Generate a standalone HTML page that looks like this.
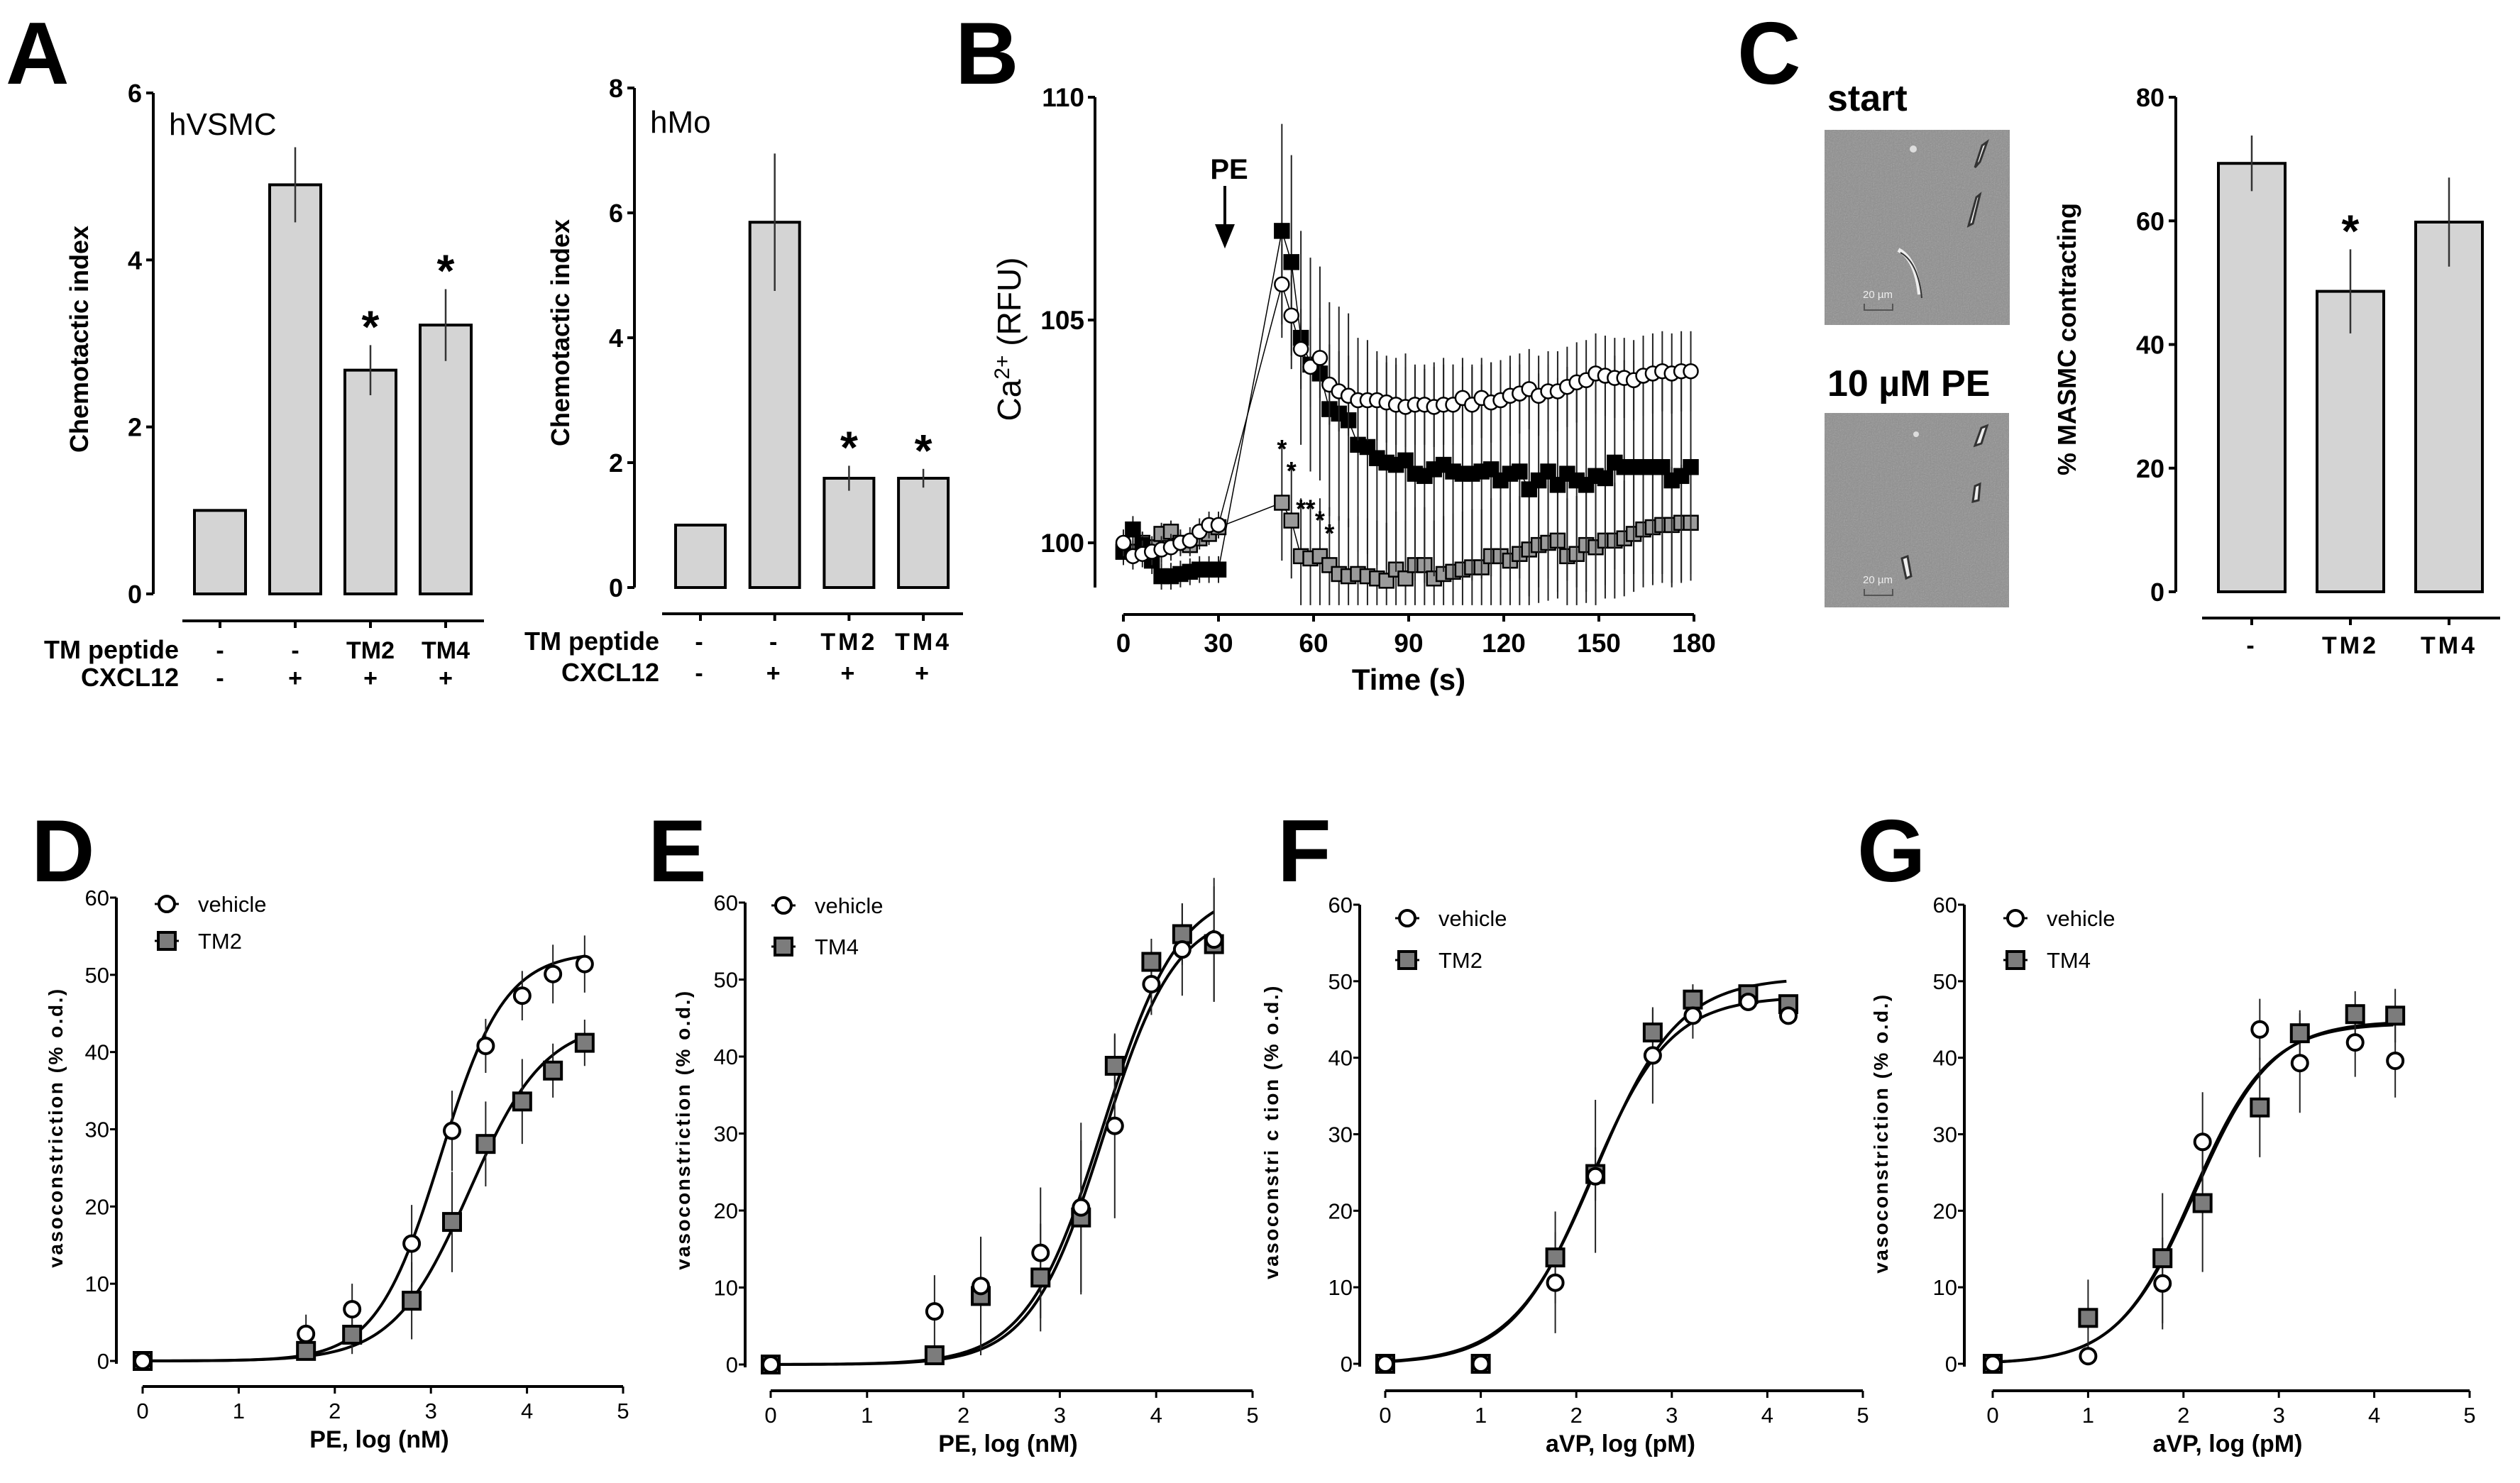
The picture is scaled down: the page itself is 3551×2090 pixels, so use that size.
<!DOCTYPE html>
<html><head><meta charset="utf-8"><style>
html,body{margin:0;padding:0;background:#fff;}
svg{display:block;}
.n{font-family:"Liberation Sans Narrow","Liberation Sans",sans-serif;font-weight:bold;}
.w{font-family:"Liberation Sans",sans-serif;font-weight:bold;}
</style></head><body>
<svg id="fig" xmlns="http://www.w3.org/2000/svg" width="3551" height="2090" viewBox="0 0 3551 2090">
<defs>
<filter id="noise" x="0" y="0" width="100%" height="100%">
<feTurbulence type="fractalNoise" baseFrequency="0.6" numOctaves="2" seed="3"/>
<feColorMatrix type="saturate" values="0"/>
<feComponentTransfer><feFuncA type="linear" slope="0.35"/></feComponentTransfer>
</filter>
</defs>
<!-- panel letters -->
<text class="w" x="8" y="118" font-size="124">A</text>
<text class="w" x="1346" y="118" font-size="124">B</text>
<text class="w" x="2448" y="118" font-size="124">C</text>
<text class="w" x="44" y="1242" font-size="124">D</text>
<text class="w" x="913" y="1242" font-size="124">E</text>
<text class="w" x="1800" y="1242" font-size="124">F</text>
<text class="w" x="2617" y="1242" font-size="124">G</text>

<!-- C micrographs -->
<g>
<rect x="2571" y="183" width="261" height="275" fill="#8e8e8e"/>
<rect x="2571" y="183" width="261" height="275" filter="url(#noise)"/>
<path d="M2793 205 L2800 200 L2790 228 L2783 236 Z" fill="#eee" stroke="#333" stroke-width="3"/>
<path d="M2785 278 L2790 274 L2780 315 L2774 318 Z" fill="#eee" stroke="#333" stroke-width="3"/>
<path d="M2675 352 Q2700 365 2705 415" fill="none" stroke="#eee" stroke-width="6"/>
<path d="M2678 356 Q2703 370 2708 420" fill="none" stroke="#333" stroke-width="2"/>
<circle cx="2696" cy="210" r="5" fill="#ddd"/>
<text x="2625" y="420" font-family="Liberation Sans,sans-serif" font-size="15" fill="#eee">20 µm</text>
<path d="M2627 428 v9 h40 v-9" fill="none" stroke="#555" stroke-width="2"/>
</g>
<g>
<rect x="2571" y="582" width="260" height="274" fill="#8e8e8e"/>
<rect x="2571" y="582" width="260" height="274" filter="url(#noise)"/>
<path d="M2792 603 L2800 600 L2792 625 L2783 628 Z" fill="#eee" stroke="#333" stroke-width="3"/>
<path d="M2783 685 L2790 682 L2788 705 L2780 707 Z" fill="#eee" stroke="#333" stroke-width="3"/>
<path d="M2680 787 L2688 784 L2693 812 L2686 815 Z" fill="#eee" stroke="#333" stroke-width="3"/>
<circle cx="2700" cy="612" r="4" fill="#ddd"/>
<text x="2625" y="822" font-family="Liberation Sans,sans-serif" font-size="15" fill="#eee">20 µm</text>
<path d="M2627 830 v9 h40 v-9" fill="none" stroke="#555" stroke-width="2"/>
</g>
<text class="w" x="2575" y="156" font-size="52">start</text>
<text class="w" x="2575" y="558" font-size="52">10 µM PE</text>
</svg>
<script>
// ---------------- data: panel A hVSMC ----------------
const aCats = ['c1','c2','c3','c4'];
const aRow1 = ['-','-','TM2','TM4'];
const aRow2 = ['-','+','+','+'];
const aVals = [1, 4.9, 2.68, 3.22];
const aErrs = [0, 0.45, 0.3, 0.43];
const aStar = [false, false, true, true];
const aTicks = [0, 2, 4, 6];
// ---------------- panel A hMo ----------------
const mVals = [1, 5.85, 1.75, 1.75];
const mErrs = [0, 1.1, 0.2, 0.15];
const mStar = [false, false, true, true];
const mRow1 = ['-','-','TM2','TM4'];
const mRow2 = ['-','+','+','+'];
const mTicks = [0, 2, 4, 6, 8];
// ---------------- panel C ----------------
const cCats = ['-','TM2','TM4'];
const cVals = [69.3, 48.6, 59.8];
const cErrs = [4.5, 6.8, 7.2];
const cStar = [false, true, false];
const cTicks = [0, 20, 40, 60, 80];
// ---------------- panel B ----------------
const bTimePre = [0,3,6,9,12,15,18,21,24,27,30];
const bTimePost = [50,53,56,59,62,65,68,71,74,77,80,83,86,89,92,95,98,101,104,107,110,113,116,119,122,125,128,131,134,137,140,143,146,149,152,155,158,161,164,167,170,173,176,179];
const bWhitePre = [100.0,99.7,99.75,99.8,99.85,99.9,100.0,100.05,100.25,100.4,100.4];
const bWhitePost = [105.8,105.1,104.35,103.95,104.15,103.55,103.4,103.3,103.2,103.2,103.2,103.15,103.1,103.05,103.1,103.1,103.05,103.1,103.1,103.25,103.1,103.25,103.15,103.2,103.3,103.35,103.45,103.3,103.4,103.4,103.5,103.6,103.65,103.8,103.75,103.7,103.7,103.65,103.75,103.8,103.85,103.8,103.85,103.85];
const bBlackPre = [99.8,100.3,99.95,99.6,99.25,99.25,99.3,99.35,99.4,99.4,99.4];
const bBlackPost = [107.0,106.3,104.6,104.0,103.8,103.0,102.9,102.75,102.2,102.15,101.9,101.8,101.75,101.85,101.55,101.5,101.65,101.75,101.6,101.55,101.55,101.6,101.65,101.4,101.55,101.6,101.2,101.4,101.6,101.3,101.55,101.4,101.3,101.5,101.45,101.8,101.7,101.7,101.7,101.7,101.7,101.4,101.5,101.7];
const bGrayPre = [99.8,99.8,100.0,99.9,100.2,100.25,100.0,99.95,100.1,100.2,100.35];
const bGrayPost = [100.9,100.5,99.7,99.65,99.7,99.5,99.3,99.25,99.3,99.25,99.2,99.15,99.4,99.2,99.5,99.5,99.2,99.3,99.35,99.4,99.45,99.45,99.7,99.7,99.6,99.75,99.85,99.95,100.0,100.05,99.7,99.75,99.95,99.9,100.05,100.05,100.1,100.2,100.3,100.35,100.4,100.4,100.45,100.45];
const bSemPre = [0.3, 0.3, 0.25];
const bSemPost = [0.9, 2.4, 1.3]; // white, black, gray
const bXTicks = [0,30,60,90,120,150,180];
const bYTicks = [100,105,110];
// ---------------- panel D ----------------
const dX = [0,1.7,2.18,2.8,3.22,3.57,3.95,4.27,4.6];
const dVeh = [0,3.5,6.7,15.2,29.8,40.8,47.3,50.1,51.4];
const dVehErr = [0,2.5,3.3,5,5.2,3.5,3.2,3.8,3.7];
const dTm = [0,1.3,3.4,7.8,18,28.1,33.6,37.6,41.2];
const dTmErr = [0,1,2.5,5,6.5,5.5,5.5,3.5,3];
const dFitVeh = [53, 3.1, 1.3];
const dFitTm = [44, 3.4, 1.1];
// ---------------- panel E ----------------
const eX = [0,1.7,2.18,2.8,3.22,3.57,3.95,4.27,4.6];
const eVeh = [0,6.9,10.2,14.5,20.4,31,49.4,53.9,55.2];
const eVehErr = [0,4.7,6.3,8.5,11,12,4,6,8];
const eTm = [0,1.2,8.9,11.3,19.1,38.8,52.3,55.9,54.6];
const eTmErr = [0,1,7.7,7,10,4,3,4,7.5];
const eFitVeh = [62, 3.45, 1.1];
const eFitTm = [59, 3.45, 1.15];
// ---------------- panel F ----------------
const fX = [0,1,1.78,2.2,2.8,3.22,3.8,4.22];
const fVeh = [0,0,10.6,24.5,40.3,45.5,47.3,45.5];
const fVehErr = [0,0,6.6,10,6.3,3,1,1];
const fTm = [0,0,13.9,24.8,43.3,47.6,48.3,47];
const fTmErr = [0,0,6,3.5,3,2,1,1];
const fFitVeh = [48, 2.15, 1.05];
const fFitTm = [50.5, 2.2, 1.0];
// ---------------- panel G ----------------
const gX = [0,1,1.78,2.2,2.8,3.22,3.8,4.22];
const gVeh = [0,1,10.5,29,43.7,39.3,42,39.6];
const gVehErr = [0,0,6,6.5,4,6.5,4.5,4.8];
const gTm = [0,6,13.8,21,33.5,43.2,45.7,45.5];
const gTmErr = [0,5,8.5,9,6.5,3,3,3.5];
const gFitVeh = [44.5, 2.1, 1.1];
const gFitTm = [44.8, 2.12, 1.08];
const doseXTicks = [0,1,2,3,4,5];
const doseYTicks = [0,10,20,30,40,50,60];

const NS = 'http://www.w3.org/2000/svg';
const svg = document.getElementById('fig');
function mk(tag, attrs, parent) {
  const el = document.createElementNS(NS, tag);
  for (const k in attrs) el.setAttribute(k, attrs[k]);
  (parent || svg).appendChild(el);
  return el;
}
function txt(s, attrs, parent) { const t = mk('text', attrs, parent); t.textContent = s; return t; }
function lin(d0, d1, r0, r1) { return v => r0 + (v - d0) * (r1 - r0) / (d1 - d0); }

// ---------- bar chart ----------
function barChart(o) {
  const g = mk('g', {});
  
  
  const y = lin(0, o.ymax, o.y0, o.y1);
  const ax = mk('line', {x1:o.ax, x2:o.ax, y1:o.y1, y2:o.y0, stroke:'#000','stroke-width':4}, g);
  
  
  o.ticks.forEach(t => {
    const tk = mk('line', {x1:o.ax-10, x2:o.ax, y1:y(t), y2:y(t), stroke:'#000','stroke-width':4}, g);
    
    
    const tl = txt(String(t), {class:'n', x:o.ax-16, y:y(t)+13, 'font-size':36, 'text-anchor':'end'}, g);
    
    
  });
  o.vals.forEach((v, i) => {
    const cx = o.c0 + i * o.step;
    const b = mk('rect', {x:cx-o.bw/2, y:y(v), width:o.bw, height:o.y0-y(v), fill:'#d4d4d4', stroke:'#000','stroke-width':4}, g);
    
    
    if (o.errs[i] > 0) {
      const e = mk('line', {x1:cx, x2:cx, y1:y(v+o.errs[i]), y2:y(v-o.errs[i]), stroke:'#333','stroke-width':2.5}, g);
      
      
    }
    if (o.star[i]) {
      const s = txt('*', {class:'w', x:cx, y:y(v+o.errs[i])-4, 'font-size':64, 'text-anchor':'middle'}, g);
      
      
    }
    const ct = mk('line', {x1:cx, x2:cx, y1:o.catY, y2:o.catY+10, stroke:'#000','stroke-width':4}, g);
    
    
    o.rows.forEach((row, r) => {
      const lt = txt(row[i], {class:'w', x:cx, y:o.rowY[r], 'font-size':34, 'text-anchor':'middle', 'letter-spacing':o.ls||0}, g);
      
      
    });
  });
  const cl = mk('line', {x1:o.catX0, x2:o.catX1, y1:o.catY, y2:o.catY, stroke:'#000','stroke-width':4}, g);
  
  
  (o.rowNames||[]).forEach((rn, r) => {
    const t = txt(rn, {class:'n', x:o.rowNameX, y:o.rowY[r], 'font-size':36, 'text-anchor':'end'}, g);
    
    
  });
  const yl = txt(o.ylabel, {class:'w', x:0, y:0, 'font-size':o.ylfs||36, 'text-anchor':'middle', transform:`translate(${o.ylx},${o.yly}) rotate(-90)`}, g);
  
  
  if (o.title) {
    const tt = txt(o.title, {class:'w', x:o.title[1]||0, y:0, 'font-size':44}, g);
    tt.textContent = o.titleText;
    tt.setAttribute('x', o.titleX); tt.setAttribute('y', o.titleY);
    tt.setAttribute('style', 'font-weight:normal;font-family:"Liberation Sans Narrow","Liberation Sans",sans-serif');
    
    
  }
}
barChart({name:'chart-hvsmc', ymax:6, y0:837, y1:131, ax:216, ticks:aTicks, vals:aVals, errs:aErrs, star:aStar,
  c0:310, step:106, bw:72, catY:875, catX0:257, catX1:682, rows:[aRow1,aRow2], rowY:[928,967],
  rowNames:['TM peptide','CXCL12'], rowNameX:252, ylabel:'Chemotactic index', ylx:124, yly:478,
  title:true, titleText:'hVSMC', titleX:238, titleY:190});
barChart({name:'chart-hmo', ymax:8, y0:828, y1:124, ax:894, ticks:mTicks, vals:mVals, errs:mErrs, star:mStar,
  c0:987, step:104.7, bw:70, catY:865, catX0:933, catX1:1357, rows:[mRow1,mRow2], rowY:[916,960], ls:4,
  rowNames:['TM peptide','CXCL12'], rowNameX:929, ylabel:'Chemotactic index', ylx:802, yly:469,
  title:true, titleText:'hMo', titleX:916, titleY:187});
barChart({name:'chart-masmc', ymax:80, y0:834, y1:137, ax:3066, ticks:cTicks, vals:cVals, errs:cErrs, star:cStar,
  c0:3173, step:139, bw:94, catY:871, catX0:3103, catX1:3523, rows:[cCats], rowY:[921], ls:4,
  ylabel:'% MASMC contracting', ylx:2925, yly:478});

// ---------- panel B ----------
(function(){
  const g = mk('g', {});
  
  
  const x = lin(0, 180, 1583, 2387);
  const y = lin(100, 110, 765, 137);
  const ya = mk('line', {x1:1543, x2:1543, y1:137, y2:828, stroke:'#000','stroke-width':4}, g);
  
  
  bYTicks.forEach(t => {
    const tk = mk('line', {x1:1533, x2:1543, y1:y(t), y2:y(t), stroke:'#000','stroke-width':4}, g);
    
    
    const tl = txt(String(t), {class:'n', x:1528, y:y(t)+13, 'font-size':37, 'text-anchor':'end'}, g);
    
    
  });
  const xa = mk('line', {x1:x(0), x2:x(180), y1:866, y2:866, stroke:'#000','stroke-width':4}, g);
  
  
  bXTicks.forEach(t => {
    const tk = mk('line', {x1:x(t), x2:x(t), y1:866, y2:876, stroke:'#000','stroke-width':4}, g);
    
    
    const tl = txt(String(t), {class:'n', x:x(t), y:919, 'font-size':37, 'text-anchor':'middle'}, g);
    
    
  });
  const xt = txt('Time (s)', {class:'n', x:1985, y:972, 'font-size':42, 'text-anchor':'middle'}, g);
  
  
  const yt = mk('text', {x:0, y:0, 'font-family':'Liberation Sans,sans-serif', 'font-size':46, 'text-anchor':'middle', transform:'translate(1438,478) rotate(-90)'}, g);
  yt.innerHTML = 'Ca<tspan dy="-16" font-size="30">2+</tspan><tspan dy="16"> (RFU)</tspan>';
  
  
  const pe = txt('PE', {class:'w', x:1732, y:252, 'font-size':40, 'text-anchor':'middle'}, g);
  
  
  const ar = mk('path', {d:'M1726 262 V325 M1715 318 L1726 345 L1737 318 Z', stroke:'#000','stroke-width':4, fill:'#000'}, g);
  
  
  const series = [
    {name:'white', pre:bWhitePre, post:bWhitePost, fill:'#fff', circle:true},
    {name:'black', pre:bBlackPre, post:bBlackPost, fill:'#000', circle:false},
    {name:'gray', pre:bGrayPre, post:bGrayPost, fill:'#9a9a9a', circle:false}
  ];
  const order = [2,1,0];
  order.forEach(si => {
    const s = series[si];
    const pts = bTimePre.map((t,i)=>[x(t),y(s.pre[i])]).concat(bTimePost.map((t,i)=>[x(t),y(s.post[i])]));
    bTimePre.forEach((t,i)=>{
      const e = mk('line', {x1:x(t), x2:x(t), y1:y(s.pre[i]+bSemPre[si]), y2:y(s.pre[i]-bSemPre[si]), stroke:'#222','stroke-width':2}, g);
      
      
    });
    bTimePost.forEach((t,i)=>{
      const e = mk('line', {x1:x(t), x2:x(t), y1:y(s.post[i]+bSemPost[si]), y2:y(Math.max(98.6, s.post[i]-bSemPost[si])), stroke:'#222','stroke-width':2}, g);
      
      
    });
    const pl = mk('polyline', {points:pts.map(p=>p.join(',')).join(' '), fill:'none', stroke:'#000','stroke-width':1.5}, g);
    
    
    pts.forEach(p => {
      let m;
      if (s.circle) m = mk('circle', {cx:p[0], cy:p[1], r:10, fill:'#fff', stroke:'#000','stroke-width':2.5}, g);
      else m = mk('rect', {x:p[0]-10, y:p[1]-10, width:20, height:20, fill:s.fill, stroke:'#000','stroke-width':2.5}, g);
      
      
    });
  });
  const stars = [[50,102.2],[53,101.7],[56,100.85],[59,100.85],[62,100.6],[65,100.3]];
  stars.forEach(st => {
    const s = txt('*', {class:'w', x:x(st[0]), y:y(st[1])+18, 'font-size':36, 'text-anchor':'middle'}, g);
    
    
  });
})();

// ---------- dose-response ----------
function dose(o) {
  const g = mk('g', {});
  
  
  const x = lin(0, 5, o.x0, o.x5);
  const y = lin(0, 60, o.y0, o.y60);
  const ya = mk('line', {x1:o.ax, x2:o.ax, y1:o.y60, y2:o.y0+4, stroke:'#000','stroke-width':4}, g);
  
  
  doseYTicks.forEach(t => {
    const tk = mk('line', {x1:o.ax-9, x2:o.ax, y1:y(t), y2:y(t), stroke:'#000','stroke-width':3}, g);
    
    
    const tl = txt(String(t), {class:'n', x:o.ax-10, y:y(t)+11, 'font-size':31, 'text-anchor':'end', style:'font-weight:normal'}, g);
    
    
  });
  const xa = mk('line', {x1:x(0), x2:x(5), y1:o.xaY, y2:o.xaY, stroke:'#000','stroke-width':4}, g);
  
  
  doseXTicks.forEach(t => {
    const tk = mk('line', {x1:x(t), x2:x(t), y1:o.xaY, y2:o.xaY+10, stroke:'#000','stroke-width':3}, g);
    
    
    const tl = txt(String(t), {class:'n', x:x(t), y:o.xaY+45, 'font-size':31, 'text-anchor':'middle', style:'font-weight:normal'}, g);
    
    
  });
  const xt = txt(o.xlabel, {class:'n', x:(o.x0+o.x5)/2 - 5, y:o.xaY+86, 'font-size':34, 'text-anchor':'middle'}, g);
  
  
  const yt = txt(o.ylabel, {class:'w', x:0, y:0, 'font-size':28, 'letter-spacing':2.5, 'text-anchor':'middle', transform:`translate(${o.ylx},${o.yly}) rotate(-90)`}, g);
  
  
  [o.fitTm, o.fitVeh].forEach((f, k) => {
    const last = o.xs[o.xs.length-1];
    const pts = [];
    for (let v = 0; v <= last + 1e-9; v += 0.04) pts.push([x(v), y(f[0]/(1+Math.pow(10,(f[1]-v)*f[2])))]);
    const c = mk('polyline', {points:pts.map(p=>p.join(',')).join(' '), fill:'none', stroke:'#000','stroke-width':4}, g);
    
    
  });
  [[o.veh,o.vehErr,true],[o.tm,o.tmErr,false]].forEach(sr => {
    o.xs.forEach((xv, i) => {
      if (sr[1][i] > 0) {
        const e = mk('line', {x1:x(xv), x2:x(xv), y1:y(sr[0][i]+sr[1][i]), y2:y(sr[0][i]-sr[1][i]), stroke:'#222','stroke-width':2}, g);
        
        
      }
    });
  });
  [[o.tm,false],[o.veh,true]].forEach(sr => {
    o.xs.forEach((xv, i) => {
      let m;
      if (sr[1]) m = mk('circle', {cx:x(xv), cy:y(sr[0][i]), r:11, fill:'#fff', stroke:'#000','stroke-width':4}, g);
      else m = mk('rect', {x:x(xv)-12, y:y(sr[0][i])-12, width:24, height:24, fill:'#7c7c7c', stroke:'#000','stroke-width':4}, g);
      
      
    });
  });
  const lg = mk('g', {}, g);
  
  
  mk('line', {x1:o.lx-17, x2:o.lx+17, y1:o.ly1, y2:o.ly1, stroke:'#000','stroke-width':3}, lg);
  mk('circle', {cx:o.lx, cy:o.ly1, r:11, fill:'#fff', stroke:'#000','stroke-width':4}, lg);
  const l1 = txt('vehicle', {class:'n', x:o.lx+44, y:o.ly1+11, 'font-size':31, style:'font-weight:normal'}, lg);
  
  
  mk('line', {x1:o.lx-17, x2:o.lx+17, y1:o.ly2, y2:o.ly2, stroke:'#000','stroke-width':3}, lg);
  mk('rect', {x:o.lx-12, y:o.ly2-12, width:24, height:24, fill:'#7c7c7c', stroke:'#000','stroke-width':4}, lg);
  const l2 = txt(o.tmName, {class:'n', x:o.lx+44, y:o.ly2+11, 'font-size':31, style:'font-weight:normal'}, lg);
  
  
}
dose({name:'chart-d', x0:201, x5:878, y0:1918, y60:1265, ax:164, xaY:1954, xs:dX, veh:dVeh, vehErr:dVehErr, tm:dTm, tmErr:dTmErr,
  fitVeh:dFitVeh, fitTm:dFitTm, xlabel:'PE, log (nM)', ylabel:'vasoconstriction (% o.d.)', ylx:88, yly:1589, lx:235, ly1:1274, ly2:1326, tmName:'TM2'});
dose({name:'chart-e', x0:1086, x5:1765, y0:1923, y60:1272, ax:1050, xaY:1960, xs:eX, veh:eVeh, vehErr:eVehErr, tm:eTm, tmErr:eTmErr,
  fitVeh:eFitVeh, fitTm:eFitTm, xlabel:'PE, log (nM)', ylabel:'vasoconstriction (% o.d.)', ylx:972, yly:1592, lx:1104, ly1:1276, ly2:1334, tmName:'TM4'});
dose({name:'chart-f', x0:1952, x5:2625, y0:1922, y60:1275, ax:1916, xaY:1960, xs:fX, veh:fVeh, vehErr:fVehErr, tm:fTm, tmErr:fTmErr,
  fitVeh:fFitVeh, fitTm:fFitTm, xlabel:'aVP, log (pM)', ylabel:'vasoconstri c tion (% o.d.)', ylx:1801, yly:1595, lx:1983, ly1:1294, ly2:1353, tmName:'TM2'});
dose({name:'chart-g', x0:2808, x5:3480, y0:1922, y60:1275, ax:2768, xaY:1960, xs:gX, veh:gVeh, vehErr:gVehErr, tm:gTm, tmErr:gTmErr,
  fitVeh:gFitVeh, fitTm:gFitTm, xlabel:'aVP, log (pM)', ylabel:'vasoconstriction (% o.d.)', ylx:2660, yly:1597, lx:2840, ly1:1294, ly2:1353, tmName:'TM4'});
</script>
</body></html>
